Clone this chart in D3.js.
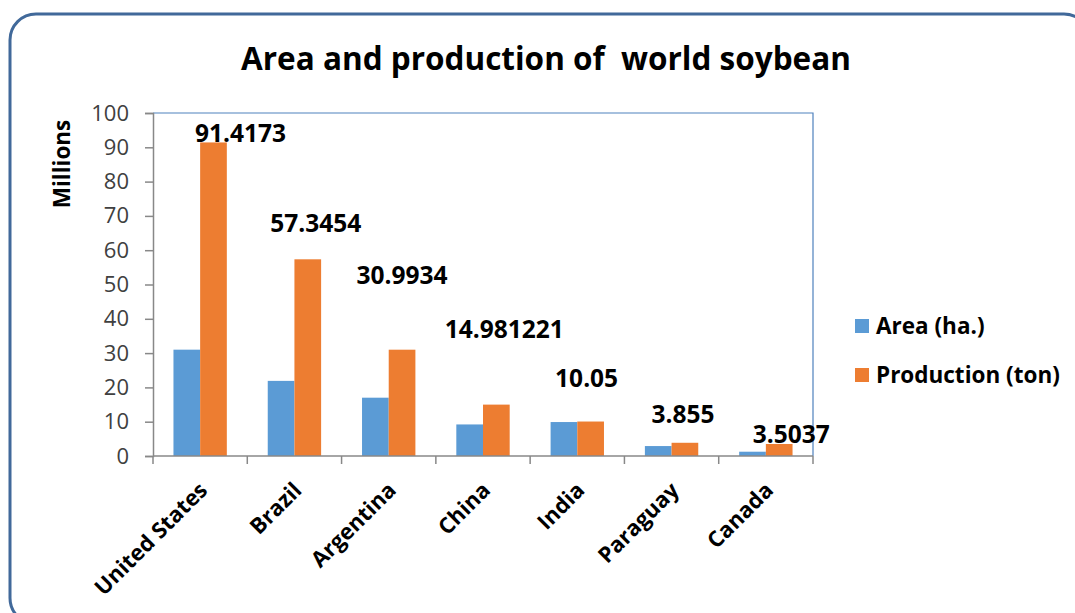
<!DOCTYPE html>
<html>
<head>
<meta charset="utf-8">
<script src="https://cdn.jsdelivr.net/npm/d3@7"></script>
<style>
  body { margin: 0; background: #fff; }
  svg { display: block; font-family: "Open Sans", sans-serif; }
</style>
</head>
<body>
<script>
// values in millions
const countries = ["United States", "Brazil", "Argentina", "China", "India", "Paraguay", "Canada"];
const areaHa = [31.0, 21.9, 17.0, 9.2, 9.9, 2.9, 1.25];
const productionTon = [91.4173, 57.3454, 30.9934, 14.981221, 10.05, 3.855, 3.5037];
const productionLabels = ["91.4173", "57.3454", "30.9934", "14.981221", "10.05", "3.855", "3.5037"];
const seriesNames = ["Area (ha.)", "Production (ton)"];
const yTicks = [0, 10, 20, 30, 40, 50, 60, 70, 80, 90, 100];

// hand-placed label offsets (dx, dy) like in the original sheet
const labelNudge = [[27, 0], [8, -27], [0, -66], [8, -67], [-4, -35], [-2, -20], [12, -1]];

const colors = ["#5b9bd5", "#ed7d31"];

const W = 1075, H = 613;
const plot = {left: 153, right: 813, top: 113, bottom: 456};

const svg = d3.select("body").append("svg").attr("width", W).attr("height", H);

// outer rounded frame
svg.append("rect")
  .attr("x", 10).attr("y", 14)
  .attr("width", 1080).attr("height", 610)
  .attr("rx", 26).attr("ry", 26)
  .attr("fill", "none")
  .attr("stroke", "#41699a")
  .attr("stroke-width", 3);

svg.append("text")
  .attr("x", 546).attr("y", 70)
  .attr("text-anchor", "middle")
  .attr("font-weight", "bold")
  .attr("font-size", 31.5)
  .attr("fill", "#000")
  .text("Area and production of\u00a0 world soybean");

const x0 = d3.scaleBand().domain(countries).range([plot.left, plot.right]);
const bw = x0.bandwidth();
const x1 = d3.scaleBand().domain(seriesNames).range([bw * 0.217, bw - bw * 0.217]);
const y = d3.scaleLinear().domain([0, 100]).range([plot.bottom, plot.top]);

// plot area border (top + right)
svg.append("path")
  .attr("d", "M" + plot.left + "," + plot.top + "H" + plot.right + "V" + plot.bottom)
  .attr("fill", "none")
  .attr("stroke", "#4f81bd")
  .attr("stroke-width", 1.2);

const rows = countries.map((c, i) => ({c: c, vals: [areaHa[i], productionTon[i]]}));

const groups = svg.append("g").selectAll("g")
  .data(rows).join("g")
  .attr("transform", d => "translate(" + x0(d.c) + ",0)");

groups.selectAll("rect")
  .data(d => d.vals.map((v, k) => ({k: k, v: v})))
  .join("rect")
  .attr("x", d => x1(seriesNames[d.k]))
  .attr("width", x1.bandwidth())
  .attr("y", d => y(d.v))
  .attr("height", d => y(0) - y(d.v))
  .attr("fill", d => colors[d.k]);

// y axis
const yAxis = svg.append("g")
  .attr("transform", "translate(" + plot.left + ",0)")
  .call(d3.axisLeft(y).tickValues(yTicks).tickSize(8).tickPadding(16));
yAxis.select(".domain").attr("stroke", "#888").attr("stroke-width", 1.5);
yAxis.selectAll(".tick line").attr("stroke", "#888").attr("stroke-width", 1.5);
yAxis.selectAll(".tick text")
  .attr("font-size", 22)
  .attr("fill", "#404040")
  .attr("font-family", "Open Sans, sans-serif");

// x axis: ticks at category boundaries
const xAxis = svg.append("g")
  .attr("transform", "translate(0," + plot.bottom + ")");
xAxis.append("line")
  .attr("x1", plot.left).attr("x2", plot.right)
  .attr("stroke", "#888").attr("stroke-width", 1.5);
xAxis.selectAll("line.tk")
  .data(countries.concat(["end"]))
  .join("line").attr("class", "tk")
  .attr("x1", (d, i) => plot.left + i * bw)
  .attr("x2", (d, i) => plot.left + i * bw)
  .attr("y1", 0).attr("y2", 8)
  .attr("stroke", "#888").attr("stroke-width", 1.5);
xAxis.selectAll("text")
  .data(countries)
  .join("text")
  .attr("transform", d => "translate(" + (x0(d) + bw / 2 - 3) + ",24) rotate(-45)")
  .attr("text-anchor", "end")
  .attr("dy", "0.75em")
  .attr("font-weight", "bold")
  .attr("font-size", 22)
  .attr("fill", "#000")
  .text(d => d);

// data labels on production
svg.append("g").selectAll("text")
  .data(rows)
  .join("text")
  .attr("x", (d, i) => x0(d.c) + x1(seriesNames[1]) + x1.bandwidth() / 2 + labelNudge[i][0])
  .attr("y", (d, i) => y(d.vals[1]) + labelNudge[i][1])
  .attr("text-anchor", "middle")
  .attr("font-weight", "bold")
  .attr("font-size", 24.5)
  .attr("fill", "#000")
  .text((d, i) => productionLabels[i]);

// y title
svg.append("text")
  .attr("transform", "translate(70,164) rotate(-90)")
  .attr("text-anchor", "middle")
  .attr("font-weight", "bold")
  .attr("font-size", 22.5)
  .text("Millions");

// legend
const legend = svg.append("g").selectAll("g")
  .data(seriesNames).join("g")
  .attr("transform", (d, i) => "translate(855," + (319 + i * 49) + ")");
legend.append("rect")
  .attr("width", 14).attr("height", 14)
  .attr("fill", (d, i) => colors[i]);
legend.append("text")
  .attr("x", 21).attr("y", 7)
  .attr("dy", "0.35em")
  .attr("font-weight", "bold")
  .attr("font-size", 22.5)
  .text(d => d);
</script>
</body>
</html>
